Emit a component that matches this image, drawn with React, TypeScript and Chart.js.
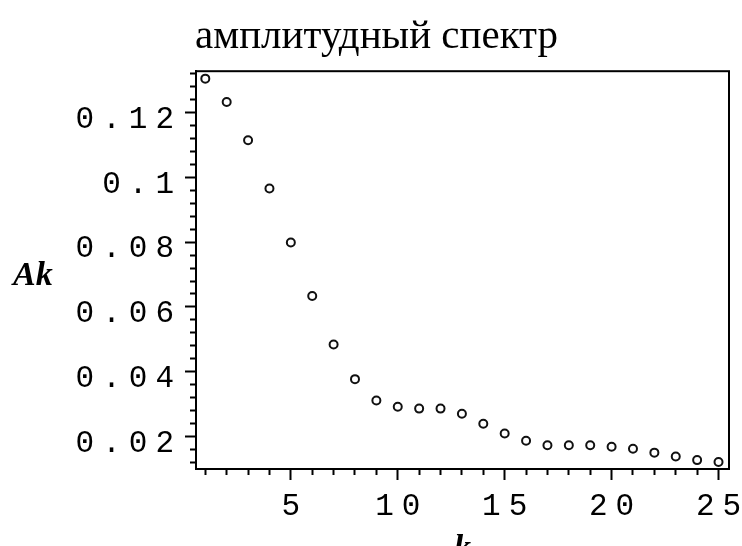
import React, { useEffect, useRef } from "react";
import { Chart, registerables } from "chart.js";

Chart.register(...registerables);

// ---- data ----
const titleText = "амплитудный спектр";
const xTitle = "k";
const yTitle = "Ak";
const kValues = [1, 2, 3, 4, 5, 6, 7, 8, 9, 10, 11, 12, 13, 14, 15, 16, 17, 18, 19, 20, 21, 22, 23, 24, 25];
const amplitudes = [
  0.1305, 0.1233, 0.1115, 0.0966, 0.0799, 0.0634, 0.0484, 0.0377, 0.0311, 0.0292,
  0.0286, 0.0286, 0.027, 0.0239, 0.0209, 0.0187, 0.0173, 0.0173, 0.0173, 0.0168,
  0.0162, 0.015, 0.0138, 0.0127, 0.0121,
];
const xTickValues = [5, 10, 15, 20, 25];
const xTickLabels = ["5", "10", "15", "20", "25"];
const yTickValues = [0.02, 0.04, 0.06, 0.08, 0.1, 0.12];
const yTickLabels = ["0.02", "0.04", "0.06", "0.08", "0.1", "0.12"];
const xMinorTicks = [1, 2, 3, 4, 5, 6, 7, 8, 9, 10, 11, 12, 13, 14, 15, 16, 17, 18, 19, 20, 21, 22, 23, 24, 25];
const yMinorTicks = [
  0.012, 0.016, 0.02, 0.024, 0.028, 0.032, 0.036, 0.04, 0.044, 0.048, 0.052, 0.056,
  0.06, 0.064, 0.068, 0.072, 0.076, 0.08, 0.084, 0.088, 0.092, 0.096, 0.1, 0.104,
  0.108, 0.112, 0.116, 0.12, 0.124, 0.128, 0.132,
];
const xRange = [0.565, 25.49];
const yRange = [0.00995, 0.1328];

const TICK_SPACING = "8px";

const findIdx = (arr: number[], v: number) => arr.findIndex((a) => Math.abs(a - v) < 1e-9);

const spacedTicks = {
  id: "spacedTicks",
  beforeDraw(chart: any) {
    for (const id of ["x", "y"]) {
      const s: any = chart.scales[id];
      if (s && !s.__spaced) {
        const orig = s.drawLabels;
        s.drawLabels = function (area: any) {
          const ctx = this.ctx;
          const prev = ctx.letterSpacing;
          ctx.letterSpacing = TICK_SPACING;
          orig.call(this, area);
          ctx.letterSpacing = prev || "0px";
        };
        s.__spaced = true;
      }
    }
  },
};

const framePlugin = {
  id: "frame",
  beforeDraw(chart: any) {
    const ctx = chart.ctx;
    ctx.save();
    ctx.fillStyle = "#ffffff";
    ctx.fillRect(0, 0, chart.width, chart.height);
    ctx.restore();
  },
  afterDraw(chart: any) {
    const { ctx, chartArea } = chart;
    ctx.save();
    ctx.strokeStyle = "#000";
    ctx.lineWidth = 2;
    ctx.strokeRect(chartArea.left, chartArea.top, chartArea.right - chartArea.left, chartArea.bottom - chartArea.top);
    // horizontal y-axis label
    ctx.fillStyle = "#000";
    ctx.font = 'italic bold 34px "Liberation Serif"';
    ctx.textAlign = "left";
    ctx.textBaseline = "alphabetic";
    ctx.fillText(yTitle, 13, (chartArea.top + chartArea.bottom) / 2 + 15);
    ctx.restore();
  },
};

export default function App() {
  const ref = useRef<HTMLCanvasElement | null>(null);
  useEffect(() => {
    if (!ref.current) return;
    const tickFont = { family: "Liberation Mono", size: 31 };
    const chart = new Chart(ref.current, {
      type: "scatter",
      data: {
        datasets: [
          {
            data: kValues.map((k, i) => ({ x: k, y: amplitudes[i] })),
            pointStyle: "circle",
            pointRadius: 4,
            pointBorderWidth: 2,
            pointBorderColor: "#111",
            pointBackgroundColor: "rgba(0,0,0,0)",
            showLine: false,
          },
        ],
      },
      options: {
        animation: false,
        responsive: false,
        devicePixelRatio: 1,
        layout: { padding: { left: 11, right: 0, top: 0, bottom: 0 } },
        plugins: {
          legend: { display: false },
          tooltip: { enabled: false },
          title: {
            display: true,
            text: titleText,
            color: "#000",
            font: { family: "Liberation Serif", size: 41, weight: "normal" },
            padding: { top: 13, bottom: 9 },
          },
        },
        scales: {
          x: {
            type: "linear",
            position: "bottom",
            min: xRange[0],
            max: xRange[1],
            afterBuildTicks: (scale: any) => {
              scale.ticks = xMinorTicks.map((v) => ({ value: v }));
            },
            afterFit: (scale: any) => {
              scale.height = 77;
              scale.paddingLeft = 0;
              scale.paddingRight = 13;
            },
            ticks: {
              autoSkip: false,
              maxRotation: 0,
              minRotation: 0,
              padding: 8,
              labelOffset: 4,
              color: "#000",
              font: tickFont,
              callback: (v: any) => {
                const i = findIdx(xTickValues, Number(v));
                return i >= 0 ? xTickLabels[i] : "";
              },
            },
            grid: {
              drawOnChartArea: false,
              drawTicks: true,
              tickLength: 11,
              tickWidth: 2,
              tickColor: "#000",
              tickBorderDash: (ctx: any) =>
                ctx.tick && findIdx(xTickValues, ctx.tick.value) >= 0 ? [] : [5, 100],
            },
            border: { display: true, color: "#000", width: 2 },
            title: {
              display: true,
              text: xTitle,
              color: "#000",
              font: { family: "Liberation Serif", size: 34, weight: "bold", style: "italic" },
              padding: { top: 0, bottom: -24 },
            },
          },
          y: {
            type: "linear",
            position: "left",
            min: yRange[0],
            max: yRange[1],
            afterBuildTicks: (scale: any) => {
              scale.ticks = yMinorTicks.map((v) => ({ value: v }));
            },
            afterFit: (scale: any) => {
              scale.width = 185;
              scale.paddingTop = 0;
              scale.paddingBottom = 0;
            },
            ticks: {
              autoSkip: false,
              padding: 3,
              labelOffset: 7,
              color: "#000",
              font: tickFont,
              callback: (v: any) => {
                const i = findIdx(yTickValues, Number(v));
                return i >= 0 ? yTickLabels[i] : "";
              },
            },
            grid: {
              drawOnChartArea: false,
              drawTicks: true,
              tickLength: 11,
              tickWidth: 2,
              tickColor: "#000",
              tickBorderDash: (ctx: any) =>
                ctx.tick && findIdx(yTickValues, ctx.tick.value) >= 0 ? [] : [0, 5, 6, 100],
            },
            border: { display: true, color: "#000", width: 2 },
          },
        },
      },
      plugins: [spacedTicks, framePlugin],
    } as any);
    return () => chart.destroy();
  }, []);
  return (
    <div style={{ position: "fixed", left: 0, top: 0, width: 742, height: 546, background: "#fff" }}>
      <canvas ref={ref} width={742} height={546} style={{ display: "block" }} />
    </div>
  );
}
